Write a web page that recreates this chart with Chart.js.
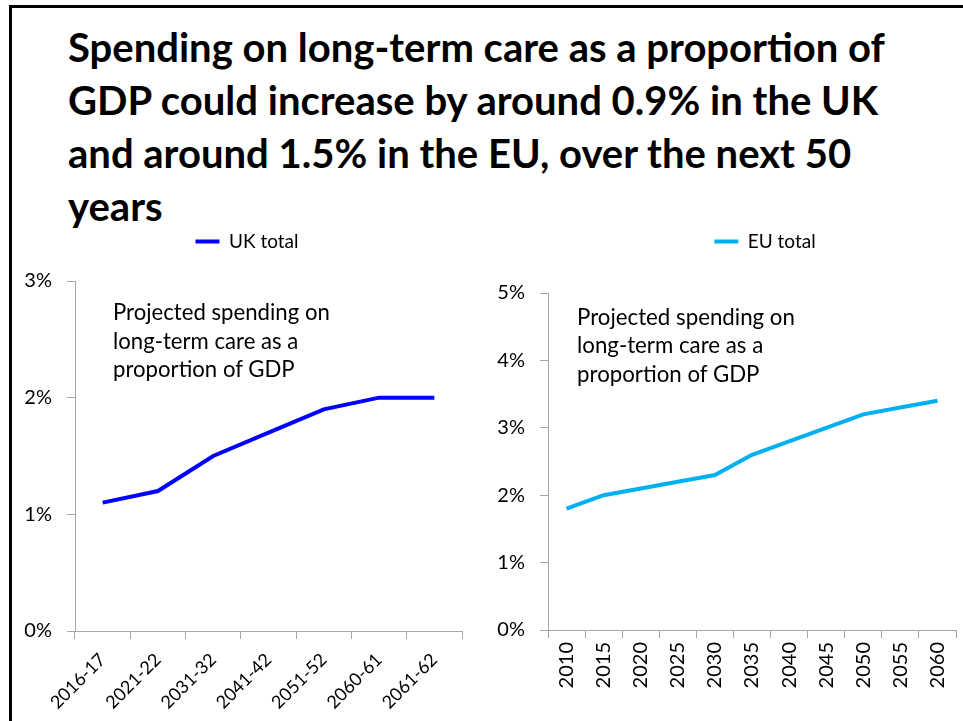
<!DOCTYPE html>
<html>
<head>
<meta charset="utf-8">
<script src="https://cdn.jsdelivr.net/npm/chart.js@4.4.1/dist/chart.umd.min.js"></script>
<style>
  html, body { margin: 0; padding: 0; background: #fff; overflow: hidden; }
  body { width: 963px; height: 721px; position: relative; font-family: Lato, sans-serif; }
  #frame { position: absolute; left: 9px; top: 5px; width: 960px; height: 760px;
           border-top: 3px solid #000; border-left: 3px solid #000; }
  .txt { position: absolute; color: #000; white-space: nowrap; margin: 0; }
  .head { left: 68px; font-weight: bold; }
  canvas { position: absolute; }
  #ukChart { left: 0; top: 222px; }
  #euChart { left: 480px; top: 222px; }
</style>
</head>
<body>
<div id="frame"></div>

<div class="txt head" data-base="62">Spending on long-term care as a proportion of</div>
<div class="txt head" data-base="115">GDP could increase by around 0.9% in the UK</div>
<div class="txt head" data-base="168">and around 1.5% in the EU, over the next 50</div>
<div class="txt head" data-base="221">years</div>

<canvas id="ukChart" width="474" height="499"></canvas>
<canvas id="euChart" width="570" height="499"></canvas>

<div class="txt note uk" style="left:113px" data-base="320">Projected spending on</div>
<div class="txt note uk" style="left:113px" data-base="349">long-term care as a</div>
<div class="txt note uk" style="left:113px" data-base="377">proportion of GDP</div>
<div class="txt note eu" style="left:577px" data-base="325">Projected spending on</div>
<div class="txt note eu" style="left:577px" data-base="353">long-term care as a</div>
<div class="txt note eu" style="left:577px" data-base="382">proportion of GDP</div>

<script>
// UK: share of GDP by period
const ukPeriods = ['2016-17', '2021-22', '2031-32', '2041-42', '2051-52', '2060-61', '2061-62'];
const ukTotal = [1.1, 1.2, 1.5, 1.7, 1.9, 2.0, 2.0];
const ukMax = 3;

// EU: share of GDP by year
const euYears = ['2010', '2015', '2020', '2025', '2030', '2035', '2040', '2045', '2050', '2055', '2060'];
const euTotal = [1.8, 2.0, 2.1, 2.2, 2.3, 2.6, 2.8, 3.0, 3.2, 3.3, 3.4];
const euMax = 5;

const axisGrey = '#a6a6a6';
const measurer = document.createElement('canvas').getContext('2d');

Chart.defaults.font.family = 'Lato, sans-serif';
Chart.defaults.color = '#000';

// size a group of lines so the first one spans the given width,
// then sit every line on its baseline
function setText(selector, width) {
  const els = document.querySelectorAll(selector);
  const cs = getComputedStyle(els[0]);
  measurer.font = `${cs.fontWeight} 100px ${cs.fontFamily}`;
  const size = 100 * width / measurer.measureText(els[0].textContent).width;
  measurer.font = `${cs.fontWeight} ${size}px ${cs.fontFamily}`;
  const m = measurer.measureText('Hg');
  els.forEach(el => {
    el.style.fontSize = size + 'px';
    el.style.lineHeight = (m.fontBoundingBoxAscent + m.fontBoundingBoxDescent) + 'px';
    el.style.top = (el.dataset.base - m.fontBoundingBoxAscent) + 'px';
  });
}

setText('.head', 817);
setText('.note.uk', 217);
setText('.note.eu', 218);

// extra room between legend and plot
const legendGap = {
  id: 'legendGap',
  beforeInit(chart, args, opts) {
    const fit = chart.legend.fit;
    chart.legend.fit = function () {
      fit.call(this);
      this.height += opts.gap || 0;
    };
  }
};

function lineChart(id, labels, values, name, colour, max, rot, box) {
  const scales = {
    x: {
      offset: true,
      grid: { offset: true, drawOnChartArea: false, tickLength: 8, color: axisGrey },
      border: { color: axisGrey },
      ticks: { autoSkip: false, minRotation: rot, maxRotation: rot, padding: box.xPad, font: { size: box.xFont } },
      afterFit: s => { s.height = box.xHeight; }
    },
    y: {
      min: 0,
      max: max,
      ticks: { stepSize: 1, padding: 15, font: { size: 20 }, callback: v => v + '%' },
      grid: { drawOnChartArea: false, tickLength: 8, color: axisGrey },
      border: { color: axisGrey },
      afterFit: s => { s.width = box.yWidth; }
    },
    // empty right-hand strip, keeps the legend centred where it should be
    spacer: {
      axis: 'y', type: 'linear', position: 'right',
      grid: { display: false }, border: { display: false }, ticks: { display: false },
      afterFit: s => { s.width = box.spacer; }
    }
  };

  return new Chart(document.getElementById(id), {
    type: 'line',
    data: {
      labels: labels,
      datasets: [{
        label: name,
        data: values,
        borderColor: colour,
        backgroundColor: colour,
        borderWidth: 4,
        pointRadius: 0,
        tension: 0
      }]
    },
    options: {
      responsive: false,
      animation: false,
      layout: { padding: { left: box.padLeft, right: 0, top: 0, bottom: 0 } },
      plugins: {
        legend: {
          labels: {
            usePointStyle: true,
            pointStyle: 'line',
            pointStyleWidth: 24,
            padding: 10,
            font: { size: 19 }
          }
        },
        legendGap: { gap: box.gap },
        tooltip: { enabled: false }
      },
      scales: scales
    },
    plugins: [legendGap]
  });
}

lineChart('ukChart', ukPeriods, ukTotal, 'UK total', '#0000ff', ukMax, 45,
  { padLeft: 20, yWidth: 55, spacer: 12, xHeight: 90, xFont: 18, xPad: 10, gap: 20 });

lineChart('euChart', euYears, euTotal, 'EU total', '#00b0f0', euMax, 90,
  { padLeft: 0, yWidth: 68, spacer: 94, xHeight: 91, xFont: 20, xPad: 4, gap: 32 });
</script>
</body>
</html>
